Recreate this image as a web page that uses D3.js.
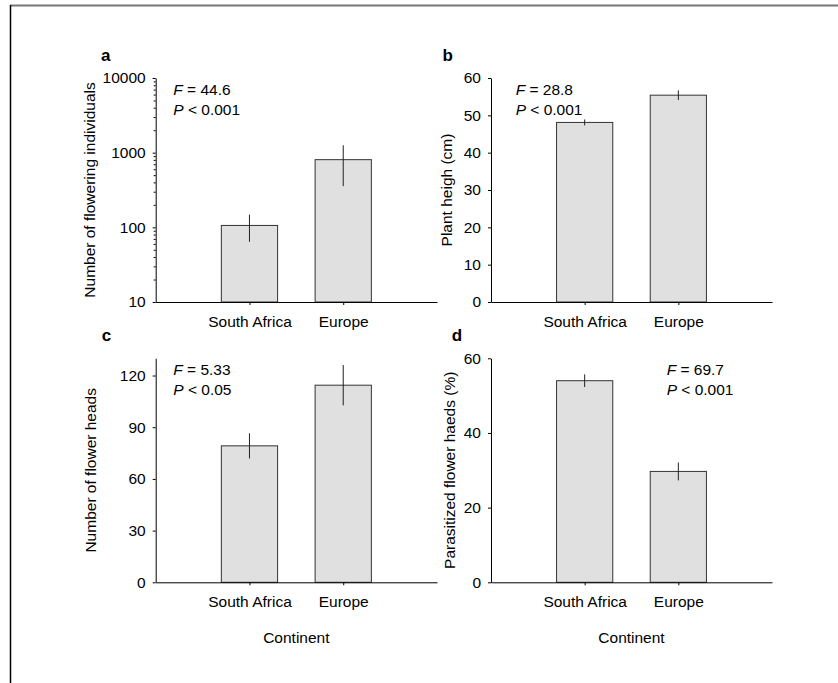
<html>
  <head>
    <script src="https://cdn.jsdelivr.net/npm/d3@7"></script>
    <style>
      body { margin: 0; background: #fff; }
      svg text { font-family: "Liberation Sans", Arial, sans-serif; fill: #000; }
    </style>
  </head>
  <body>
    <script>
      const width = 838, height = 683;

      // data: means and standard errors
      const continents = ["South Africa", "Europe"];
      const floweringMean = [106, 806];
      const floweringSE = [42, 450];
      const heightMean = [48.1, 55.4];
      const heightSE = [0.8, 1.3];
      const headsMean = [79.2, 114.4];
      const headsSE = [7.3, 11.7];
      const parasitizedMean = [54.0, 29.7];
      const parasitizedSE = [1.7, 2.4];

      const ticksA = [10, 100, 1000, 10000];
      const ticksB = [0, 10, 20, 30, 40, 50, 60];
      const ticksC = [0, 30, 60, 90, 120];
      const ticksD = [0, 20, 40, 60];

      const statsA = ["44.6", "< 0.001"];
      const statsB = ["28.8", "< 0.001"];
      const statsC = ["5.33", "< 0.05"];
      const statsD = ["69.7", "< 0.001"];

      const fs = 15.5;

      const svg = d3.select("body").append("svg")
          .attr("width", width)
          .attr("height", height);

      // frame lines (top and left only)
      svg.append("line")
          .attr("x1", 10).attr("x2", width).attr("y1", 5.5).attr("y2", 5.5)
          .attr("stroke", "#777").attr("stroke-width", 2);
      svg.append("line")
          .attr("x1", 10.5).attr("x2", 10.5).attr("y1", 5).attr("y2", height)
          .attr("stroke", "#000").attr("stroke-width", 1.5);

      function drawPanel(p) {
        const g = svg.append("g");

        const x = d3.scalePoint()
            .domain(continents)
            .range([p.x0, p.x1])
            .padding(1);
        const barW = x.step() * 0.6;

        let y;
        if (p.log) {
          y = d3.scaleLog().domain(p.domain).range([p.yBot, p.yTop]);
        } else {
          y = d3.scaleLinear().domain(p.domain).range([p.yBot, p.yTop]);
        }

        const rows = continents.map((c, i) => ({ c: c, m: p.mean[i], se: p.se[i] }));

        // bars
        g.selectAll(".bar")
          .data(rows)
          .join("rect")
            .attr("x", d => x(d.c) - barW / 2)
            .attr("y", d => y(d.m))
            .attr("width", barW)
            .attr("height", d => p.yBot - y(d.m))
            .attr("fill", "#e0e0e0")
            .attr("stroke", "#333")
            .attr("stroke-width", 1);

        // error bars, no caps
        g.selectAll(".err")
          .data(rows)
          .join("line")
            .attr("x1", d => x(d.c)).attr("x2", d => x(d.c))
            .attr("y1", d => y(d.m + d.se))
            .attr("y2", d => y(d.m - d.se))
            .attr("stroke", "#222")
            .attr("stroke-width", 1);

        // x axis
        const xAx = g.append("g")
            .attr("transform", `translate(0,${p.yBot})`)
            .call(d3.axisBottom(x).tickSize(3).tickSizeOuter(0).tickPadding(11));
        xAx.selectAll("text").style("font-size", fs + "px");

        // y axis
        const yAxis = d3.axisLeft(y).tickValues(p.ticks).tickSize(3).tickSizeOuter(0).tickPadding(7);
        if (p.log) yAxis.tickFormat(d3.format("d"));
        const yAx = g.append("g")
            .attr("transform", `translate(${p.x0},0)`)
            .call(yAxis);
        yAx.selectAll("text").style("font-size", fs + "px");
        g.selectAll(".domain, .tick line").attr("stroke", "#000");

        // minor ticks for the log axis
        if (p.log) {
          const minor = [];
          p.ticks.slice(0, -1).forEach(t => {
            for (let k = 2; k <= 9; k++) minor.push(t * k);
          });
          g.append("g")
              .attr("transform", `translate(${p.x0},0)`)
              .call(d3.axisLeft(y).tickValues(minor).tickSize(2).tickFormat(""))
              .call(s => s.select(".domain").remove())
              .selectAll("line").attr("stroke", "#000");
        }

        // y axis title
        g.append("text")
            .attr("transform", `translate(${p.yLabelX},${(p.yTop + p.yBot) / 2}) rotate(-90)`)
            .attr("text-anchor", "middle")
            .style("font-size", fs + "px")
            .text(p.yLabel);

        // x axis title
        if (p.xLabel) {
          g.append("text")
              .attr("x", (p.x0 + p.x1) / 2)
              .attr("y", p.yBot + 61)
              .attr("text-anchor", "middle")
              .style("font-size", fs + "px")
              .text(p.xLabel);
        }

        // panel letter
        g.append("text")
            .attr("x", p.letterX)
            .attr("y", p.yTop - 17.5)
            .style("font-size", "17px")
            .style("font-weight", "bold")
            .text(p.letter);

        // statistics
        const st = g.append("text").style("font-size", fs + "px");
        st.append("tspan").attr("x", p.statX).attr("y", p.yTop + 17)
            .style("font-style", "italic").text("F");
        st.append("tspan").text(" = " + p.stats[0]);
        st.append("tspan").attr("x", p.statX).attr("y", p.yTop + 37)
            .style("font-style", "italic").text("P");
        st.append("tspan").text(" " + p.stats[1]);
      }

      drawPanel({
        letter: "a", letterX: 101, x0: 155.7, x1: 437, yTop: 78, yBot: 302,
        log: true, domain: [10, 10000], ticks: ticksA,
        mean: floweringMean, se: floweringSE,
        yLabel: "Number of flowering individuals", yLabelX: 95,
        stats: statsA, statX: 173.3
      });
      drawPanel({
        letter: "b", letterX: 442.5, x0: 491, x1: 772, yTop: 78, yBot: 302,
        log: false, domain: [0, 60], ticks: ticksB,
        mean: heightMean, se: heightSE,
        yLabel: "Plant heigh (cm)", yLabelX: 452,
        stats: statsB, statX: 515.7
      });
      drawPanel({
        letter: "c", letterX: 101.7, x0: 155.7, x1: 437, yTop: 358.3, yBot: 582.3,
        log: false, domain: [0, 130], ticks: ticksC,
        mean: headsMean, se: headsSE,
        yLabel: "Number of flower heads", yLabelX: 96.4,
        stats: statsC, statX: 173.3, xLabel: "Continent"
      });
      drawPanel({
        letter: "d", letterX: 451.7, x0: 491, x1: 772, yTop: 358.3, yBot: 582.3,
        log: false, domain: [0, 60], ticks: ticksD,
        mean: parasitizedMean, se: parasitizedSE,
        yLabel: "Parasitized flower haeds (%)", yLabelX: 455,
        stats: statsD, statX: 666.7, xLabel: "Continent"
      });
    </script>
  </body>
</html>
